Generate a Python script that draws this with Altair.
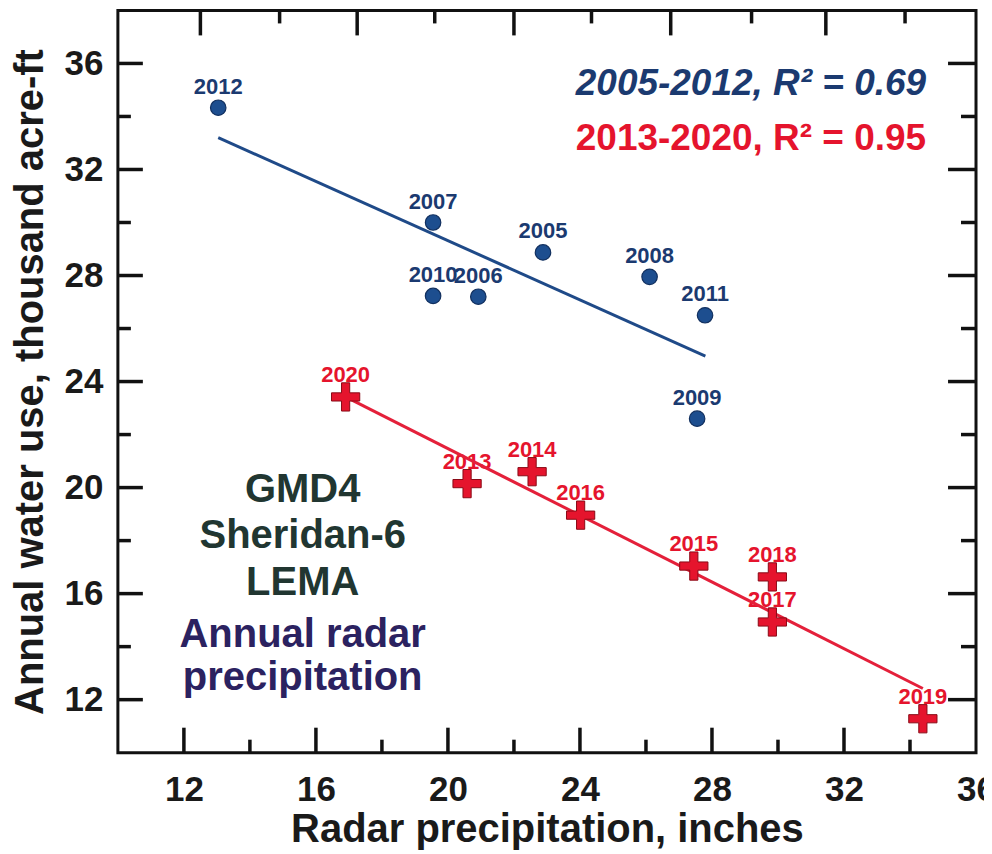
import altair as alt
import pandas as pd

# ---- data ----
years_a = ["2012", "2007", "2010", "2006", "2005", "2008", "2011", "2009"]
precip_a = [13.04, 19.55, 19.55, 20.92, 22.88, 26.11, 27.79, 27.55]
use_a = [34.33, 30.0, 27.23, 27.2, 28.87, 27.95, 26.5, 22.6]

years_b = ["2020", "2013", "2014", "2016", "2015", "2018", "2017", "2019"]
precip_b = [16.9, 20.58, 22.55, 24.02, 27.45, 29.83, 29.83, 34.39]
use_b = [23.42, 20.15, 20.6, 18.96, 17.04, 16.63, 14.93, 11.28]

fit_a_x = [13.04, 27.8]
fit_a_y = [33.2, 24.96]
fit_b_x = [16.9, 34.39]
fit_b_y = [23.42, 12.42]

x_major = [12, 16, 20, 24, 28, 32]
x_minor = [14, 18, 22, 26, 30, 34]
x_labels = [12, 16, 20, 24, 28, 32, 36]
top_major = [12.5, 17.25, 22.0, 26.75, 31.45]
top_minor = [14.9, 19.6, 24.35, 29.2, 33.85]
y_major = [12, 16, 20, 24, 28, 32, 36]
y_minor = [14, 18, 22, 26, 30, 34]

legend_lines = ["2005-2012, R\u00b2 = 0.69", "2013-2020, R\u00b2 = 0.95"]
site_lines = ["GMD4", "Sheridan-6", "LEMA"]
desc_lines = ["Annual radar", "precipitation"]

# ---- styling ----
W, H = 859, 743
FONT = "Liberation Sans"
BLUE = "#1d4e8f"
BLUE_DARK = "#12305f"
BLUE_TEXT = "#1b3a70"
RED = "#e5142d"
RED_DARK = "#8a0a16"
MAJ, MIN = 25, 13

xs = alt.Scale(domain=[10, 36], nice=False, zero=False)
ys = alt.Scale(domain=[10, 38], nice=False, zero=False)

df_a = pd.DataFrame({"year": years_a, "precip": precip_a, "use": use_a})
df_b = pd.DataFrame({"year": years_b, "precip": precip_b, "use": use_b})
fa = pd.DataFrame({"precip": fit_a_x, "use": fit_a_y})
fb = pd.DataFrame({"precip": fit_b_x, "use": fit_b_y})

X = alt.X("precip:Q", scale=xs,
          axis=alt.Axis(values=x_labels, ticks=False, domain=False, grid=False,
                        labelFont=FONT, labelFontSize=35, labelFontWeight="bold",
                        labelColor="#1a1a1a", labelPadding=20, labelFlush=False,
                        labelOverlap=False, labelBound=False,
                        title="Radar precipitation, inches", titleFont=FONT,
                        titleFontSize=40, titleFontWeight="bold", titleColor="#1a1a1a",
                        titlePadding=2))
Y = alt.Y("use:Q", scale=ys,
          axis=alt.Axis(values=y_major, ticks=False, domain=False, grid=False,
                        labelFont=FONT, labelFontSize=35, labelFontWeight="bold",
                        labelColor="#1a1a1a", labelPadding=15, labelFlush=False,
                        labelOverlap=False,
                        title="Annual water use, thousand acre-ft", titleFont=FONT,
                        titleFontSize=40, titleFontWeight="bold", titleColor="#1a1a1a",
                        titlePadding=14))


def vticks(vals, y0, y1):
    return alt.Chart(pd.DataFrame({"precip": vals})).mark_rule(
        color="#111", strokeWidth=3.5).encode(
        x=X, y=alt.value(y0), y2=alt.value(y1))


def hticks(vals, x0, x1):
    return alt.Chart(pd.DataFrame({"use": vals})).mark_rule(
        color="#111", strokeWidth=3.5).encode(
        y=Y, x=alt.value(x0), x2=alt.value(x1))


ticks = [
    vticks(x_major, H, H - MAJ), vticks(x_minor, H, H - MIN),
    vticks(top_major, 0, MAJ), vticks(top_minor, 0, MIN),
    hticks(y_major, 0, MAJ), hticks(y_minor, 0, MIN),
    hticks(y_major, W, W - MAJ - 3), hticks(y_minor, W, W - MIN - 2),
]

lab_a = alt.Chart(df_a).mark_text(font=FONT, fontSize=22, fontWeight="bold",
                                  color=BLUE_TEXT, baseline="alphabetic", dy=-14).encode(
    x=X, y=Y, text="year:N")
lab_b = alt.Chart(df_b).mark_text(font=FONT, fontSize=22, fontWeight="bold",
                                  color=RED, baseline="alphabetic", dy=-15).encode(
    x=X, y=Y, text="year:N")

line_a = alt.Chart(fa).mark_line(color="#1f4a88", strokeWidth=3).encode(x=X, y=Y)
line_b = alt.Chart(fb).mark_line(color="#e4203a", strokeWidth=3).encode(x=X, y=Y)

pts_a = alt.Chart(df_a).mark_point(shape="circle", filled=True, fill=BLUE, stroke=BLUE_DARK,
                                   strokeWidth=1.2, size=240, opacity=1).encode(x=X, y=Y)
CROSS = "M-0.29,-1H0.29V-0.29H1V0.29H0.29V1H-0.29V0.29H-1V-0.29H-0.29Z"
pts_b = alt.Chart(df_b).mark_point(shape=CROSS, filled=True, fill=RED, stroke=RED_DARK,
                                   strokeWidth=1, size=800, opacity=1).encode(x=X, y=Y)

leg1 = alt.Chart(pd.DataFrame({"t": [legend_lines[0]]})).mark_text(
    font=FONT, fontSize=37, fontWeight="bold", fontStyle="italic", color=BLUE_TEXT,
    align="right", baseline="alphabetic").encode(
    x=alt.value(809), y=alt.value(85), text="t:N")
leg2 = alt.Chart(pd.DataFrame({"t": [legend_lines[1]]})).mark_text(
    font=FONT, fontSize=37, fontWeight="bold", color=RED,
    align="right", baseline="alphabetic").encode(
    x=alt.value(809), y=alt.value(140), text="t:N")

site = [
    alt.Chart(pd.DataFrame({"t": [s]})).mark_text(
        font=FONT, fontSize=40, fontWeight="bold", color="#213631",
        align="center", baseline="alphabetic").encode(
        x=alt.value(185), y=alt.value(yy), text="t:N")
    for s, yy in zip(site_lines, [492, 538, 585])
]
desc = [
    alt.Chart(pd.DataFrame({"t": [s]})).mark_text(
        font=FONT, fontSize=40, fontWeight="bold", color="#2b2260",
        align="center", baseline="alphabetic").encode(
        x=alt.value(185), y=alt.value(yy), text="t:N")
    for s, yy in zip(desc_lines, [637, 680])
]

chart = alt.layer(
    lab_a, lab_b, line_a, line_b, pts_a, pts_b, leg1, leg2, *site, *desc, *ticks
).properties(
    width=W, height=H,
    padding={"left": 110, "top": 2, "right": 8, "bottom": 100},
    autosize=alt.AutoSizeParams(type="none"),
    background="white",
).configure_view(stroke="#111", strokeWidth=3)

chart.save("out.html", embed_options={"renderer": "svg", "actions": False})
